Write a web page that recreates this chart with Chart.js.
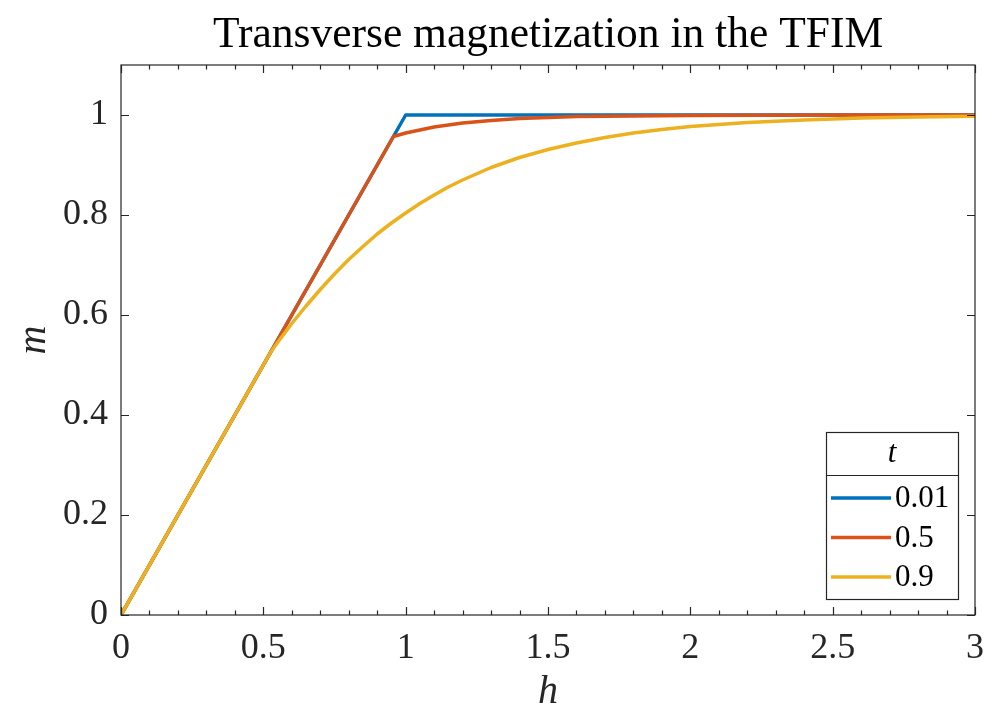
<!DOCTYPE html>
<html lang="en">
<head>
    <meta charset="UTF-8">
    <title>Transverse magnetization in the TFIM</title>
    <script src="https://cdn.jsdelivr.net/npm/chart.js@4.4.1/dist/chart.umd.min.js"></script>
</head>
<style>
    body { margin: 0; background: #fff; }
    .chart { width: 1008px; height: 720px; }
</style>
<body>
    <div class="chart">
        <canvas id="myChart" width="1008" height="720"></canvas>
    </div>
</body>
</html>

<script>
  // series: t = 0.01, 0.5, 0.9
  const labels = ['0.01', '0.5', '0.9']
  const colors = ['#0072BD', '#D95319', '#EDB120']

  const hBlue = [0, 1, 3]
  const mBlue = [0, 1, 1]

  const hOrange = [0, 0.957, 1, 1.05, 1.1, 1.2, 1.3, 1.4, 1.5, 1.6, 1.8, 2, 2.5, 3]
  const mOrange = [0, 0.957, 0.964, 0.970, 0.976, 0.984, 0.989, 0.993, 0.995, 0.997, 0.998, 0.999, 1.0, 1.0]

  const hYellow = [0, 0.525, 0.55, 0.6, 0.65, 0.7, 0.75, 0.8, 0.85, 0.9, 0.95, 1.0, 1.05, 1.1, 1.15, 1.2,
                   1.3, 1.4, 1.5, 1.6, 1.7, 1.8, 1.9, 2.0, 2.2, 2.4, 2.6, 2.8, 3.0]
  const mYellow = [0, 0.525, 0.545, 0.583, 0.618, 0.651, 0.682, 0.711, 0.737, 0.762, 0.784, 0.804, 0.823, 0.840, 0.856, 0.870,
                   0.895, 0.915, 0.931, 0.944, 0.955, 0.964, 0.971, 0.977, 0.985, 0.990, 0.994, 0.996, 0.9975]

  const xTicks = [0, 0.5, 1, 1.5, 2, 2.5, 3]
  const yTicks = [0, 0.2, 0.4, 0.6, 0.8, 1]

  const serif = '"Liberation Serif", "DejaVu Serif", serif'
  const axisColor = '#262626'

  function pts(hs, ms) {
    return hs.map((h, i) => ({x: h, y: ms[i]}))
  }

  // MATLAB-ish box with inward ticks (minor ticks on x only)
  const frame = {
    id: 'frame',
    afterDraw(chart) {
      const {ctx, chartArea: a, scales: {x, y}} = chart
      ctx.save()
      ctx.strokeStyle = axisColor
      ctx.lineWidth = 1.2
      ctx.strokeRect(a.left, a.top, a.right - a.left, a.bottom - a.top)
      ctx.beginPath()
      for (let i = 0; i <= 30; i++) {
        const px = Math.round(x.getPixelForValue(i / 10)) + 0.5
        const len = i % 5 === 0 ? 8 : 4.5
        ctx.moveTo(px, a.bottom); ctx.lineTo(px, a.bottom - len)
        ctx.moveTo(px, a.top); ctx.lineTo(px, a.top + len)
      }
      yTicks.forEach(v => {
        const py = Math.round(y.getPixelForValue(v)) + 0.5
        ctx.moveTo(a.left, py); ctx.lineTo(a.left + 8, py)
        ctx.moveTo(a.right, py); ctx.lineTo(a.right - 8, py)
      })
      ctx.stroke()
      ctx.restore()
    }
  }

  const legendBox = {
    id: 'legendBox',
    afterDraw(chart) {
      const {ctx, chartArea: a} = chart
      const w = 132, h = 167
      const right = a.right - 17, bottom = a.bottom - 16
      const left = right - w, top = bottom - h
      ctx.save()
      ctx.fillStyle = '#fff'
      ctx.fillRect(left, top, w, h)
      ctx.strokeStyle = axisColor
      ctx.lineWidth = 1.2
      ctx.strokeRect(left + 0.5, top + 0.5, w, h)
      ctx.beginPath()
      ctx.moveTo(left, top + 43.5); ctx.lineTo(right, top + 43.5)
      ctx.stroke()
      ctx.fillStyle = '#000'
      ctx.textBaseline = 'middle'
      ctx.textAlign = 'center'
      ctx.font = 'italic 31px ' + serif
      ctx.fillText('t', left + w / 2, top + 22)
      ctx.textAlign = 'left'
      ctx.font = '31px ' + serif
      chart.data.datasets.forEach((ds, i) => {
        const yy = top + 66 + i * 39.5
        ctx.strokeStyle = ds.borderColor
        ctx.lineWidth = 3.5
        ctx.beginPath()
        ctx.moveTo(left + 5, yy); ctx.lineTo(left + 65, yy)
        ctx.stroke()
        ctx.fillText(ds.label, left + 69, yy + 1)
      })
      ctx.restore()
    }
  }

  const sets = [[hBlue, mBlue], [hOrange, mOrange], [hYellow, mYellow]]

  var ctx = document.getElementById('myChart').getContext('2d')
  var chart = new Chart(ctx, {
    type: 'line',
    data: {
      datasets: sets.map((s, i) => ({
        label: labels[i],
        data: pts(s[0], s[1]),
        borderColor: colors[i],
        backgroundColor: colors[i],
        borderWidth: 3.5,
        borderJoinStyle: 'round',
        pointRadius: 0,
        tension: 0,
        fill: false,
        order: 3 - i
      }))
    },
    options: {
      responsive: false,
      animation: false,
      layout: { padding: { left: 0, right: 33, top: 0, bottom: 0 } },
      plugins: {
        legend: { display: false },
        tooltip: { enabled: false },
        title: {
          display: true,
          fullSize: false,
          text: 'Transverse magnetization in the TFIM',
          color: '#000',
          font: { family: serif, size: 43.5, weight: 'normal', lineHeight: 1.2 },
          padding: { top: 9, bottom: 3.8 }
        }
      },
      scales: {
        x: {
          type: 'linear', min: 0, max: 3,
          afterBuildTicks: s => { s.ticks = xTicks.map(v => ({value: v})) },
          afterFit: s => { s.height = 105 },
          grid: { display: false, drawTicks: false },
          border: { display: false },
          ticks: { font: { family: serif, size: 36 }, color: axisColor, padding: 12, maxRotation: 0, autoSkip: false,
                   callback: v => String(v) },
          title: { display: true, text: 'h', color: axisColor,
                   font: { family: serif, size: 40, style: 'italic' }, padding: { top: 0, bottom: 4 } }
        },
        y: {
          type: 'linear', min: 0, max: 1.1,
          afterBuildTicks: s => { s.ticks = yTicks.map(v => ({value: v})) },
          afterFit: s => { s.width = 121 },
          grid: { display: false, drawTicks: false },
          border: { display: false },
          ticks: { font: { family: serif, size: 36 }, color: axisColor, padding: 13, autoSkip: false,
                   callback: v => String(v) },
          title: { display: true, text: 'm', color: axisColor,
                   font: { family: serif, size: 40, style: 'italic' }, padding: { top: 10, bottom: 0 } }
        }
      }
    },
    plugins: [frame, legendBox]
  })
</script>
